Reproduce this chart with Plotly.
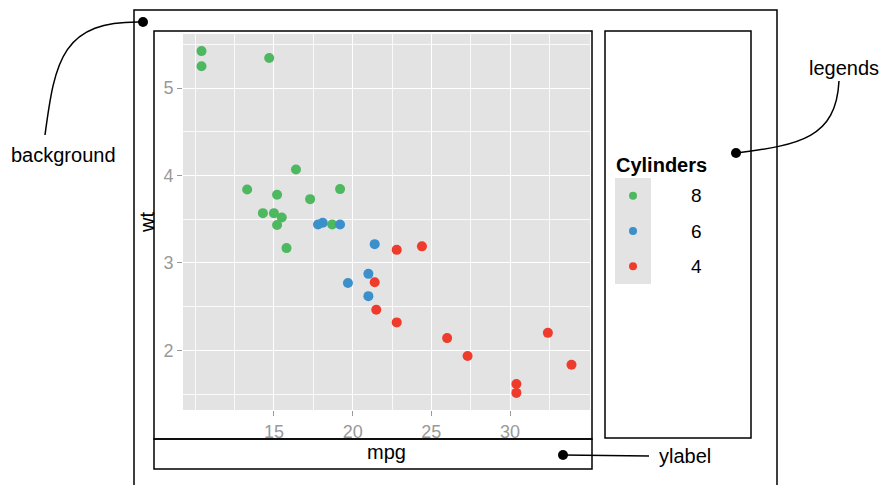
import plotly.graph_objects as go

# ---- data (mtcars) ----
mpg = [21.0, 21.0, 22.8, 21.4, 18.7, 18.1, 14.3, 24.4, 22.8, 19.2, 17.8, 16.4, 17.3, 15.2,
       10.4, 10.4, 14.7, 32.4, 30.4, 33.9, 21.5, 15.5, 15.2, 13.3, 19.2, 27.3, 26.0, 30.4,
       15.8, 19.7, 15.0, 21.4]
wt = [2.620, 2.875, 2.320, 3.215, 3.440, 3.460, 3.570, 3.190, 3.150, 3.440, 3.440, 4.070,
      3.730, 3.780, 5.250, 5.424, 5.345, 2.200, 1.615, 1.835, 2.465, 3.520, 3.435, 3.840,
      3.845, 1.935, 2.140, 1.513, 3.170, 2.770, 3.570, 2.780]
cyl = [6, 6, 4, 6, 8, 6, 8, 4, 4, 6, 6, 8, 8, 8, 8, 8, 8, 4, 4, 4, 4, 8, 8, 8, 8, 4, 4, 4,
       8, 6, 8, 4]
cyl_levels = [8, 6, 4]
cyl_colors = ["#4DB85F", "#3B8FCB", "#EE3B2B"]
x_ticks = [15, 20, 25, 30]
y_ticks = [2, 3, 4, 5]
x_minor = [10, 12.5, 17.5, 22.5, 27.5, 32.5]
y_minor = [1.5, 2.5, 3.5, 4.5, 5.5]
legend_title = "Cylinders"

W, H = 884, 485
FONT = "Liberation Sans, Arial, Helvetica, sans-serif"
PANEL = "#E3E3E3"
TICKGREY = "#999999"


def px(x):
    return x / W


def py(y):
    return 1 - y / H


fig = go.Figure()

for lvl, col in zip(cyl_levels, cyl_colors):
    xs = [m for m, c in zip(mpg, cyl) if c == lvl]
    ys = [w for w, c in zip(wt, cyl) if c == lvl]
    fig.add_trace(go.Scatter(x=xs, y=ys, mode="markers", name=str(lvl),
                             marker=dict(color=col, size=10, line=dict(width=0)),
                             showlegend=False))

# legend key column (drawn through its own small axes)
key_order = [str(c) for c in sorted(cyl_levels)]
fig.add_trace(go.Scatter(x=[0] * len(cyl_levels), y=[str(c) for c in cyl_levels],
                         mode="markers", xaxis="x2", yaxis="y2",
                         marker=dict(color=cyl_colors, size=8, line=dict(width=0)),
                         showlegend=False, hoverinfo="skip"))

xr = [min(mpg) - 0.05 * (max(mpg) - min(mpg)), max(mpg) + 0.05 * (max(mpg) - min(mpg))]
yr = [min(wt) - 0.05 * (max(wt) - min(wt)), max(wt) + 0.05 * (max(wt) - min(wt))]

axis_common = dict(
    showgrid=True, gridcolor="white", gridwidth=1.3, zeroline=False, showline=False,
    ticks="outside", ticklen=5, tickwidth=1, tickcolor=TICKGREY,
    tickfont=dict(family=FONT, size=18, color=TICKGREY), tickmode="array",
)

fig.update_layout(
    width=W, height=H,
    margin=dict(l=0, r=0, t=0, b=0),
    paper_bgcolor="white", plot_bgcolor=PANEL,
    font=dict(family=FONT, color="black"),
    showlegend=False,
    xaxis=dict(domain=[px(183), px(590)], range=xr, tickvals=x_ticks,
               minor=dict(tickmode="array", tickvals=x_minor, showgrid=True,
                          gridcolor="rgba(255,255,255,0.8)", gridwidth=0.7, ticks=""),
               title=dict(text="mpg", font=dict(family=FONT, size=20, color="black"), standoff=4),
               **axis_common),
    yaxis=dict(domain=[py(410), py(34)], range=yr, tickvals=y_ticks,
               minor=dict(tickmode="array", tickvals=y_minor, showgrid=True,
                          gridcolor="rgba(255,255,255,0.8)", gridwidth=0.7, ticks=""),
               title=dict(text="wt", font=dict(family=FONT, size=20, color="black"), standoff=3),
               **axis_common),
    xaxis2=dict(domain=[px(615), px(651)], range=[-1, 1], visible=False, anchor="y2"),
    yaxis2=dict(domain=[py(284), py(178)], type="category", categoryorder="array",
                categoryarray=key_order, range=[-0.5, len(key_order) - 0.5],
                visible=False, anchor="x2"),
)

# ---- decorative boxes of the diagram ----
def rect(x0, y0, x1, y1):
    return dict(type="rect", xref="paper", yref="paper", x0=px(x0), x1=px(x1),
                y0=py(y0), y1=py(y1), line=dict(color="black", width=1.5),
                fillcolor="rgba(0,0,0,0)", layer="above")


def path(points, cmd):
    s = cmd.format(*[f"{px(a):.5f},{py(b):.5f}" for a, b in points])
    return dict(type="path", xref="paper", yref="paper", path=s,
                line=dict(color="black", width=1.5), layer="above")


def dot(x, y, r=5):
    return dict(type="circle", xref="paper", yref="paper", xsizemode="pixel",
                ysizemode="pixel", xanchor=px(x), yanchor=py(y), x0=-r, x1=r, y0=-r, y1=r,
                fillcolor="black", line=dict(color="black", width=0), layer="above")


shapes = [
    rect(134, 10, 777, 495),   # background
    rect(154, 31, 592, 439),   # plot
    rect(154, 439, 592, 469),  # x label strip
    rect(605, 31, 751, 438),   # legend box
    path([(45, 135), (55, 60), (62, 20), (143, 22)], "M {0} C {1} {2} {3}"),
    path([(736, 153), (800, 145), (836, 138), (839, 81)], "M {0} C {1} {2} {3}"),
    path([(563, 455), (649, 456)], "M {0} L {1}"),
    dot(143, 22), dot(736, 153), dot(563, 455),
]
fig.update_layout(shapes=shapes)

ann = []
for txt, x, y, xa in [("background", 9, 155, "left"), ("legends", 844, 68, "center"),
                      ("ylabel", 657, 456, "left")]:
    ann.append(dict(text=txt, xref="paper", yref="paper", x=px(x), y=py(y), xanchor=xa,
                    yanchor="middle", showarrow=False,
                    font=dict(family=FONT, size=20, color="black")))
ann.append(dict(text=f"<b>{legend_title}</b>", xref="paper", yref="paper", x=px(614),
                y=py(165), xanchor="left", yanchor="middle", showarrow=False,
                font=dict(family=FONT, size=20, color="black")))
for lvl in cyl_levels:
    ann.append(dict(text=str(lvl), xref="paper", yref="y2", x=px(696),
                    y=key_order.index(str(lvl)), xanchor="center", yanchor="middle",
                    showarrow=False, font=dict(family=FONT, size=19, color="black")))
fig.update_layout(annotations=ann)

fig.write_html("out.html", config={"displayModeBar": False},
               post_script="document.body.style.margin='0';document.body.style.overflow='hidden';")
